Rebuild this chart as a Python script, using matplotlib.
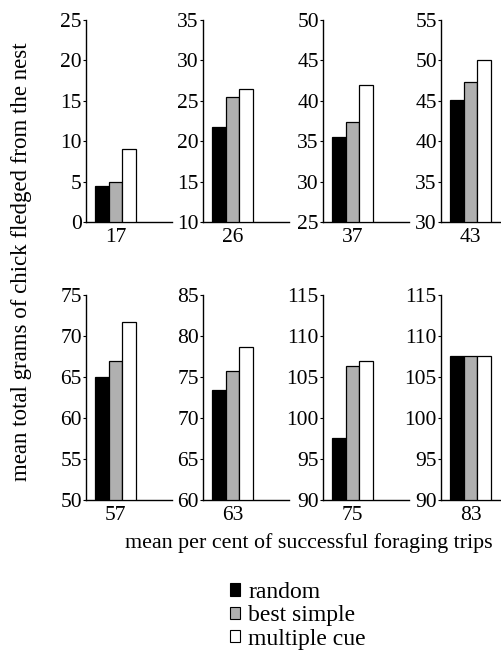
import matplotlib.pyplot as plt
from matplotlib.patches import Patch

# percentages of successful foraging trips (one panel each)
trips = [17, 26, 37, 43, 57, 63, 75, 83]
strategies = ["random", "best simple", "multiple cue"]

random_vals = [4.4, 21.7, 35.5, 45.1, 65.0, 73.4, 97.6, 107.6]
simple_vals = [5.0, 25.5, 37.4, 47.3, 67.0, 75.7, 106.3, 107.6]
multi_vals = [9.0, 26.5, 42.0, 50.0, 71.7, 78.6, 107.0, 107.6]

y_lows = [0, 10, 25, 30, 50, 60, 90, 90]
y_highs = [25, 35, 50, 55, 75, 85, 115, 115]

COLORS = ["black", "#b0b0b0", "white"]

plt.rcParams["font.family"] = ["Liberation Serif", "DejaVu Serif"]

W, H = 501, 653
fig = plt.figure(figsize=(W / 100, H / 100), dpi=100)

lefts_px = [86, 203, 323, 441]
rows_px = [(20, 222), (295, 500)]   # (top, bottom) in pixels

for k in range(8):
    row, col = divmod(k, 4)
    top, bot = rows_px[row]
    ax = fig.add_axes([lefts_px[col] / W, 1 - bot / H, 86 / W, (bot - top) / H])
    vals = [random_vals[k], simple_vals[k], multi_vals[k]]
    for j, v in enumerate(vals):
        ax.bar(j, v - y_lows[k], bottom=y_lows[k], width=1.0,
               color=COLORS[j], edgecolor="black", linewidth=0.9, zorder=3)
    ax.set_xlim(-1.16, 5.14)
    ax.set_ylim(y_lows[k], y_highs[k])
    ax.set_yticks(range(y_lows[k], y_highs[k] + 1, 5))
    ax.set_xticks([1])
    ax.set_xticklabels([str(trips[k])])
    ax.tick_params(axis="x", length=0, pad=4, labelsize=15.5)
    ax.tick_params(axis="y", length=2, width=0.8, pad=1, labelsize=15.5)
    for s in ["top", "right"]:
        ax.spines[s].set_visible(False)
    for s in ["left", "bottom"]:
        ax.spines[s].set_linewidth(1.0)
    ax.patch.set_alpha(0)

fig.text(22 / W, 1 - 262 / H, "mean total grams of chick fledged from the nest",
         rotation=90, ha="center", va="center", fontsize=16.5)
fig.text(309 / W, 1 - 543 / H, "mean per cent of successful foraging trips",
         ha="center", va="center", fontsize=15.8)

handles = [Patch(facecolor=c, edgecolor="black", linewidth=0.8) for c in COLORS]
fig.legend(handles, strategies, loc="upper left",
           bbox_to_anchor=(230 / W, 1 - 582 / H), frameon=False,
           fontsize=17, handlelength=0.42, handleheight=0.42,
           handletextpad=0.35, labelspacing=0.1, borderpad=0, borderaxespad=0)

fig.savefig("out.png", dpi=100)
